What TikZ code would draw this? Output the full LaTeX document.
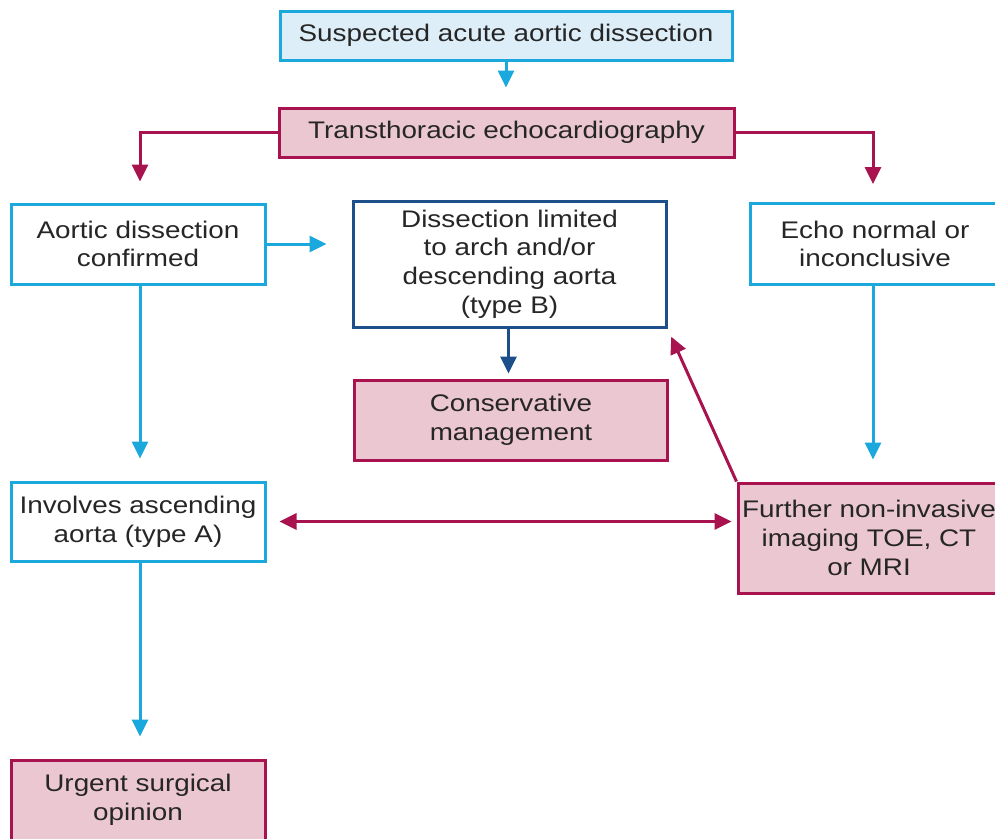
\documentclass[tikz,border=0pt]{standalone}
\usepackage{fontspec}
\setmainfont{Liberation Sans}[FakeStretch=1.16]
\usetikzlibrary{arrows.meta}
\definecolor{cyanb}{HTML}{1BA8DC}
\definecolor{lightb}{HTML}{DDEEF8}
\definecolor{crim}{HTML}{A8124F}
\definecolor{pinkf}{HTML}{EBC7D1}
\definecolor{darkb}{HTML}{1D4F8A}
\definecolor{txt}{HTML}{262626}
\tikzset{
  box/.style={draw, line width=3pt, align=center, inner sep=0pt, text=txt,
    font=\fontsize{24}{28.7}\selectfont, execute at begin node={\vspace*{6pt}}},
  bluebox/.style={box, draw=cyanb, fill=white},
  topbox/.style={box, draw=cyanb, fill=lightb},
  pinkbox/.style={box, draw=crim, fill=pinkf},
  darkbox/.style={box, draw=darkb, fill=white},
  conn/.style={line width=3pt, -{Triangle[length=17pt,width=16pt]}},
  cconn/.style={conn, draw=cyanb},
  rconn/.style={conn, draw=crim},
  dconn/.style={conn, draw=darkb},
}
\begin{document}
\begin{tikzpicture}[x=1pt,y=-1pt]
\useasboundingbox (0,0) rectangle (995,838);
\clip (0,0) rectangle (995,838);
\fill[white] (0,0) rectangle (995,838);

\node[topbox, minimum width=452pt, minimum height=49pt] (suspect) at (506,35.5) {Suspected acute aortic dissection};
\node[pinkbox, minimum width=455pt, minimum height=49pt] (tte) at (506.5,132.5) {Transthoracic echocardiography};
\node[bluebox, minimum width=254pt, minimum height=80pt] (confirmed) at (138,244) {Aortic dissection\\confirmed};
\node[darkbox, minimum width=313pt, minimum height=126pt] (typeB) at (509.5,264) {Dissection limited\\to arch and/or\\descending aorta\\(type B)};
\node[bluebox, minimum width=250pt, minimum height=81pt] (echo) at (875,244) {Echo normal or\\inconclusive};
\node[pinkbox, minimum width=313pt, minimum height=80pt] (cons) at (511,420) {Conservative\\management};
\node[bluebox, minimum width=254pt, minimum height=79pt] (typeA) at (138,521.5) {Involves ascending\\aorta (type A)};
\node[pinkbox, minimum width=274pt, minimum height=110pt] (further) at (875,538) {\hspace*{-12pt}Further non-invasive\\\hspace*{-12pt}imaging TOE, CT\\\hspace*{-12pt}or MRI};
\node[pinkbox, minimum width=254pt, minimum height=80pt] (urgent) at (138,800) {Urgent surgical\\opinion};

\draw[cconn, shorten >=19pt] (suspect.south) -- (suspect.south |- tte.north);
\draw[rconn, shorten >=21pt] (tte.west) -| ([xshift=2pt]confirmed.north);
\draw[rconn, shorten >=18pt] (tte.east) -| ([xshift=-2pt]echo.north);
\draw[cconn, shorten >=25pt] (confirmed.east) -- (confirmed.east -| typeB.west);
\draw[dconn, shorten >=5pt] ([xshift=-1pt]typeB.south) -- ([xshift=-1pt]typeB.south |- cons.north);
\draw[cconn, shorten >=22pt] ([xshift=2pt]confirmed.south) -- ([xshift=2pt]typeA.north);
\draw[cconn, shorten >=22pt] ([xshift=-2pt]echo.south) -- ([xshift=-2pt]further.north);
\draw[rconn, shorten >=9pt] (further.north west) -- (typeB.south east);
\draw[rconn, {Triangle[length=17pt,width=16pt]}-{Triangle[length=17pt,width=16pt]}, shorten <=13pt, shorten >=5pt] (typeA.east) -- (typeA.east -| further.west);
\draw[cconn, shorten >=22pt] ([xshift=2pt]typeA.south) -- ([xshift=2pt]urgent.north);
\end{tikzpicture}
\end{document}
